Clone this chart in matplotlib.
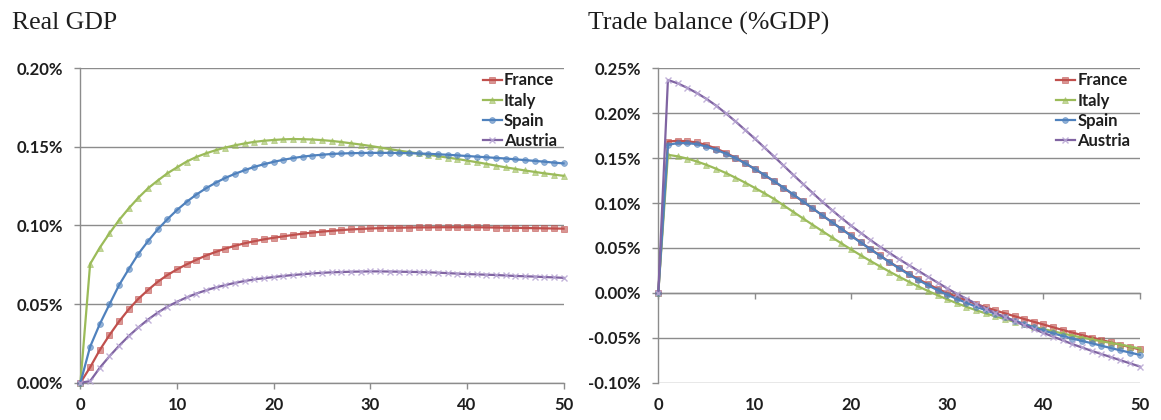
import matplotlib.pyplot as plt
from matplotlib.colors import to_rgba
from matplotlib.ticker import FuncFormatter, MultipleLocator

# horizon (periods after the shock)
periods = list(range(51))
x_ticks = [0, 10, 20, 30, 40, 50]

countries = ["France", "Italy", "Spain", "Austria"]
colors = ["#C0504D", "#9BBB59", "#4F81BD", "#8064A2"]
markers = ["s", "^", "o", "x"]

# Real GDP, % deviation
gdp_france = [0.0000, 0.0098, 0.0208, 0.0303, 0.0390, 0.0467, 0.0534, 0.0590, 0.0642, 0.0685,
              0.0721, 0.0753, 0.0782, 0.0809, 0.0832, 0.0853, 0.0871, 0.0887, 0.0900, 0.0912,
              0.0922, 0.0931, 0.0940, 0.0948, 0.0955, 0.0961, 0.0966, 0.0971, 0.0975, 0.0978,
              0.0981, 0.0983, 0.0985, 0.0986, 0.0987, 0.0988, 0.0988, 0.0989, 0.0989, 0.0989,
              0.0989, 0.0989, 0.0988, 0.0987, 0.0986, 0.0985, 0.0984, 0.0983, 0.0982, 0.0981,
              0.0980]
gdp_italy = [0.0000, 0.0755, 0.0859, 0.0950, 0.1035, 0.1109, 0.1177, 0.1237, 0.1286, 0.1332,
             0.1370, 0.1407, 0.1436, 0.1459, 0.1479, 0.1496, 0.1510, 0.1522, 0.1532, 0.1539,
             0.1544, 0.1548, 0.1550, 0.1549, 0.1547, 0.1543, 0.1538, 0.1531, 0.1523, 0.1515,
             0.1506, 0.1496, 0.1486, 0.1476, 0.1467, 0.1458, 0.1450, 0.1441, 0.1432, 0.1423,
             0.1413, 0.1403, 0.1392, 0.1381, 0.1370, 0.1360, 0.1350, 0.1341, 0.1332, 0.1324,
             0.1316]
gdp_spain = [0.0000, 0.0229, 0.0373, 0.0498, 0.0621, 0.0723, 0.0820, 0.0901, 0.0975, 0.1040,
             0.1099, 0.1151, 0.1197, 0.1237, 0.1272, 0.1303, 0.1329, 0.1352, 0.1373, 0.1390,
             0.1405, 0.1418, 0.1429, 0.1438, 0.1445, 0.1450, 0.1455, 0.1458, 0.1460, 0.1461,
             0.1462, 0.1462, 0.1462, 0.1461, 0.1460, 0.1458, 0.1456, 0.1453, 0.1450, 0.1446,
             0.1442, 0.1438, 0.1434, 0.1430, 0.1426, 0.1421, 0.1416, 0.1411, 0.1406, 0.1400,
             0.1395]
gdp_austria = [0.0000, 0.0010, 0.0095, 0.0168, 0.0235, 0.0297, 0.0352, 0.0402, 0.0446, 0.0484,
               0.0515, 0.0543, 0.0567, 0.0588, 0.0606, 0.0621, 0.0635, 0.0647, 0.0657, 0.0665,
               0.0672, 0.0679, 0.0685, 0.0690, 0.0695, 0.0699, 0.0702, 0.0704, 0.0706, 0.0707,
               0.0708, 0.0708, 0.0707, 0.0706, 0.0705, 0.0704, 0.0702, 0.0700, 0.0697, 0.0694,
               0.0691, 0.0689, 0.0687, 0.0685, 0.0682, 0.0679, 0.0677, 0.0675, 0.0672, 0.0670,
               0.0667]

# Trade balance, % of GDP
tb_france = [0.0000, 0.1685, 0.1693, 0.1688, 0.1674, 0.1645, 0.1607, 0.1560, 0.1505, 0.1445,
             0.1380, 0.1312, 0.1242, 0.1170, 0.1095, 0.1018, 0.0942, 0.0866, 0.0790, 0.0715,
             0.0640, 0.0565, 0.0490, 0.0418, 0.0345, 0.0278, 0.0213, 0.0152, 0.0098, 0.0045,
             -0.0002, -0.0045, -0.0085, -0.0123, -0.0160, -0.0195, -0.0228, -0.0260, -0.0291, -0.0322,
             -0.0352, -0.0383, -0.0413, -0.0442, -0.0470, -0.0497, -0.0524, -0.0551, -0.0578, -0.0604,
             -0.0630]
tb_italy = [0.0000, 0.1537, 0.1520, 0.1495, 0.1463, 0.1425, 0.1382, 0.1335, 0.1283, 0.1228,
            0.1170, 0.1110, 0.1047, 0.0975, 0.0903, 0.0831, 0.0760, 0.0690, 0.0620, 0.0552,
            0.0485, 0.0420, 0.0357, 0.0296, 0.0237, 0.0180, 0.0125, 0.0072, 0.0022, -0.0026,
            -0.0072, -0.0115, -0.0155, -0.0193, -0.0228, -0.0261, -0.0292, -0.0322, -0.0350, -0.0377,
            -0.0403, -0.0428, -0.0452, -0.0475, -0.0497, -0.0518, -0.0538, -0.0557, -0.0575, -0.0598,
            -0.0620]
tb_spain = [0.0000, 0.1648, 0.1667, 0.1667, 0.1656, 0.1628, 0.1593, 0.1550, 0.1500, 0.1443,
            0.1381, 0.1315, 0.1245, 0.1172, 0.1097, 0.1020, 0.0943, 0.0866, 0.0789, 0.0713,
            0.0637, 0.0562, 0.0488, 0.0415, 0.0343, 0.0273, 0.0206, 0.0143, 0.0085, 0.0030,
            -0.0020, -0.0067, -0.0111, -0.0153, -0.0193, -0.0232, -0.0271, -0.0309, -0.0345, -0.0383,
            -0.0418, -0.0450, -0.0480, -0.0508, -0.0535, -0.0560, -0.0588, -0.0614, -0.0640, -0.0665,
            -0.0690]
tb_austria = [0.0000, 0.2370, 0.2333, 0.2283, 0.2225, 0.2160, 0.2085, 0.2000, 0.1910, 0.1815,
              0.1720, 0.1620, 0.1520, 0.1418, 0.1315, 0.1215, 0.1115, 0.1018, 0.0925, 0.0835,
              0.0750, 0.0670, 0.0590, 0.0515, 0.0445, 0.0375, 0.0310, 0.0245, 0.0180, 0.0115,
              0.0050, -0.0010, -0.0065, -0.0120, -0.0175, -0.0225, -0.0270, -0.0315, -0.0360, -0.0403,
              -0.0445, -0.0487, -0.0528, -0.0570, -0.0608, -0.0645, -0.0680, -0.0715, -0.0750, -0.0785,
              -0.0820]

plt.rcParams["font.family"] = ["Lato", "DejaVu Sans"]
plt.rcParams["font.weight"] = "bold"

GRID = "#8C8C8C"
INK = "#1E1E1E"


def pct(v, pos):
    if abs(v) < 1e-9:
        v = 0.0
    return f"{v:.2f}%"


def draw(ax, series, ylo, yhi, legend_x):
    for name, vals, c, m in zip(countries, series, colors, markers):
        if m == "x":
            mkw = dict(markersize=5, markeredgewidth=1.0, markeredgecolor=to_rgba("#B7A5D3", 0.85))
        else:
            mkw = dict(markersize=4.2, markerfacecolor=to_rgba(c, 0.6),
                       markeredgecolor=to_rgba(c, 0.6), markeredgewidth=0.6)
        ax.plot(periods, vals, color=c, lw=1.6, marker=m, label=name, clip_on=False,
                zorder=3, **mkw)
    ax.set_xlim(0, 50)
    ax.set_ylim(ylo, yhi)
    ax.set_xticks(x_ticks)
    ax.yaxis.set_major_locator(MultipleLocator(0.05))
    ax.yaxis.set_major_formatter(FuncFormatter(pct))
    ax.grid(axis="y", color=GRID, lw=1.0)
    ax.set_axisbelow(True)
    for s in ["top", "right"]:
        ax.spines[s].set_visible(False)
    for s in ["left", "bottom"]:
        ax.spines[s].set_color(GRID)
        ax.spines[s].set_linewidth(1.0)
    ax.tick_params(axis="both", direction="out", length=4.3, width=1.0, color=GRID,
                   labelsize=12, labelcolor=INK)
    ax.tick_params(axis="y", pad=8)
    ax.tick_params(axis="x", pad=6)
    ax.legend(loc="upper left", bbox_to_anchor=(legend_x, 1.0), frameon=False, fontsize=12,
              handlelength=1.1, handletextpad=0.15, labelspacing=0.25, borderaxespad=0,
              borderpad=0.25, numpoints=1, labelcolor=INK)


fig = plt.figure(figsize=(11.61, 4.2), dpi=100)
ax1 = fig.add_axes([0.0693, 0.0888, 0.4161, 0.7486])
ax2 = fig.add_axes([0.5670, 0.0888, 0.4147, 0.7486])

draw(ax1, [gdp_france, gdp_italy, gdp_spain, gdp_austria], 0.0, 0.20, 0.825)
draw(ax2, [tb_france, tb_italy, tb_spain, tb_austria], -0.10, 0.25, 0.818)

# trade balance chart: horizontal axis crosses at zero, labels stay at the bottom
ax2.spines["bottom"].set_position(("data", 0))
ax2.tick_params(axis="x", labelbottom=False)
sec = ax2.secondary_xaxis("bottom")
sec.set_xticks(x_ticks)
sec.tick_params(length=0, labelsize=12, labelcolor=INK, pad=10)
sec.spines["bottom"].set_visible(False)

fig.text(11.7 / 1161, 1 - 29.3 / 420, "Real GDP", family="Liberation Serif", size=18.5,
         weight="normal", va="baseline", color=INK)
fig.text(588 / 1161, 1 - 29.3 / 420, "Trade balance (%GDP)", family="Liberation Serif",
         size=18.5, weight="normal", va="baseline", color=INK)

fig.savefig("out.png", dpi=100)
